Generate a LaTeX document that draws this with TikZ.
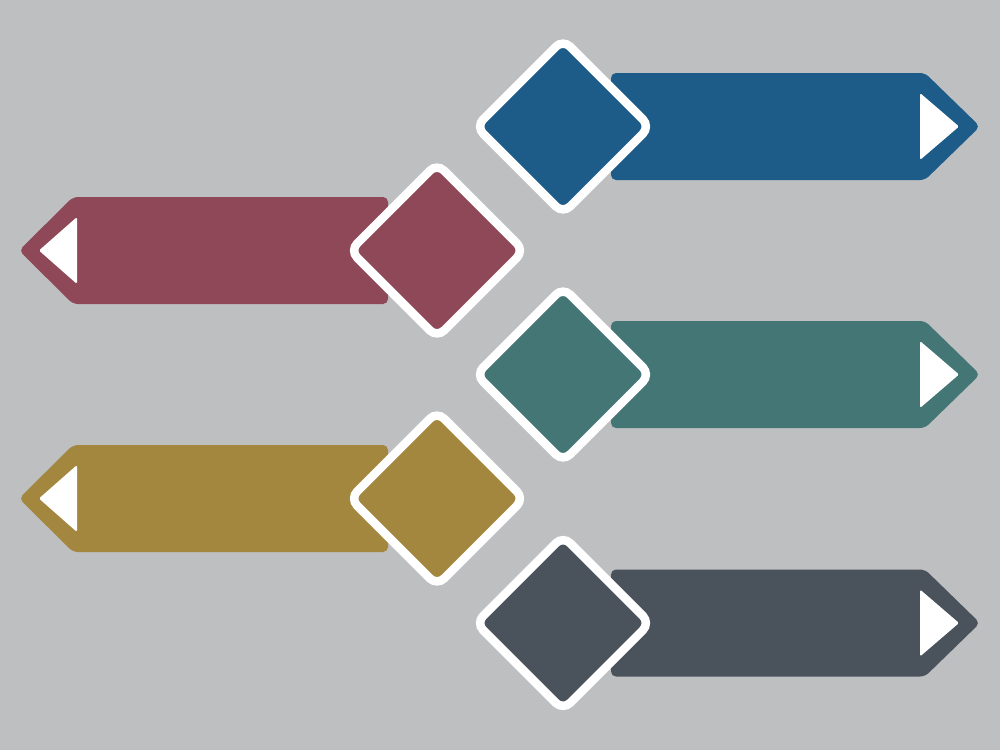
\documentclass[tikz,border=0pt]{standalone}
\definecolor{bg}{RGB}{190,191,193}
\definecolor{cblue}{RGB}{29,92,136}
\definecolor{cmaroon}{RGB}{143,72,88}
\definecolor{cteal}{RGB}{68,118,117}
\definecolor{cgold}{RGB}{164,135,63}
\definecolor{cslate}{RGB}{74,82,92}
\tikzset{
  bannerbox/.style={rounded corners=5pt},
  tribox/.style={fill=white, rounded corners=1.5pt},
  diamondbox/.style={draw=white, line width=8.5pt, rounded corners=10pt}
}
\begin{document}
\begin{tikzpicture}[x=1pt,y=-1pt]
\fill[bg] (0,0) rectangle (1000,750);
\useasboundingbox (0,0) rectangle (1000,750);
% right-pointing rows
\foreach \y/\c in {126.5/cblue, 374.5/cteal, 623/cslate} {
  \fill[\c, bannerbox] (611,\y-53.5) -- (925,\y-53.5) -- (980,\y) -- (925,\y+53.5) -- (611,\y+53.5) -- cycle;
  \fill[tribox] (920,\y-33.5) -- (959,\y) -- (920,\y+33.5) -- cycle;
  \filldraw[fill=\c, diamondbox] (476,\y) -- (563,\y-87) -- (650,\y) -- (563,\y+87) -- cycle;
}
% left-pointing rows
\foreach \y/\c in {250.5/cmaroon, 498.5/cgold} {
  \fill[\c, bannerbox] (388,\y-53.5) -- (73,\y-53.5) -- (19,\y) -- (73,\y+53.5) -- (388,\y+53.5) -- cycle;
  \fill[tribox] (77,\y-33.5) -- (39,\y) -- (77,\y+33.5) -- cycle;
  \filldraw[fill=\c, diamondbox] (350,\y) -- (437,\y-87) -- (524,\y) -- (437,\y+87) -- cycle;
}
\end{tikzpicture}
\end{document}
